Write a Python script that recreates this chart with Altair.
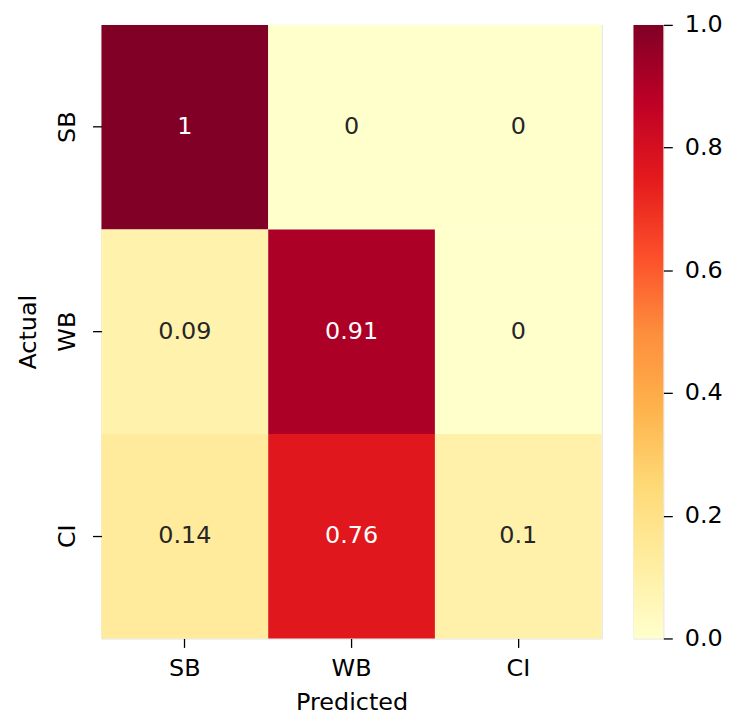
import altair as alt
import pandas as pd

# Data
actual = ["SB", "SB", "SB", "WB", "WB", "WB", "CI", "CI", "CI"]
predicted = ["SB", "WB", "CI", "SB", "WB", "CI", "SB", "WB", "CI"]
values = [1.0, 0.0, 0.0, 0.09, 0.91, 0.0, 0.14, 0.76, 0.1]
classes = ["SB", "WB", "CI"]
cbar_ticks = [0.0, 0.2, 0.4, 0.6, 0.8, 1.0]

# matplotlib YlOrRd anchor colours
ylorrd = ["#ffffcc", "#ffeda0", "#fed976", "#feb24c", "#fd8d3c",
          "#fc4e2a", "#e31a1c", "#bd0026", "#800026"]
stops_pos = [i / 8 for i in range(9)]

df = pd.DataFrame({"Actual": actual, "Predicted": predicted, "value": values})

FONT = "DejaVu Sans"
FS = 24
W, H = 503, 617

x_enc = alt.X("Predicted:N", sort=classes,
              scale=alt.Scale(paddingInner=0, paddingOuter=0),
              axis=alt.Axis(title="Predicted", labelAngle=0, domain=False,
                            tickSize=9, tickWidth=1.3, tickColor="black",
                            labelPadding=9, titlePadding=10,
                            labelFontSize=FS, titleFontSize=FS,
                            titleFontWeight="normal"))
y_enc = alt.Y("Actual:N", sort=classes,
              scale=alt.Scale(paddingInner=0, paddingOuter=0),
              axis=alt.Axis(title="Actual", labelAngle=270, labelAlign="center",
                            labelBaseline="bottom", domain=False,
                            tickSize=9, tickWidth=1.3, tickColor="black",
                            labelPadding=13, titlePadding=15,
                            labelFontSize=FS, titleFontSize=FS,
                            titleFontWeight="normal"))

base = alt.Chart(df).encode(x=x_enc, y=y_enc)

cells = base.mark_rect().encode(
    color=alt.Color("value:Q",
                    scale=alt.Scale(domain=stops_pos, range=ylorrd,
                                    interpolate="rgb"),
                    legend=None)
)

labels = base.mark_text(fontSize=FS, font=FONT).encode(
    text=alt.Text("value:Q", format=".2~g"),
    color=alt.condition(alt.datum.value > 0.5, alt.value("white"),
                        alt.value("#262626"))
)

heat = (cells + labels).properties(width=W, height=H)

cbar_df = pd.DataFrame({"lo": [0.0], "hi": [1.0]})
gradient = alt.LinearGradient(
    gradient="linear",
    stops=[alt.GradientStop(color=c, offset=o) for c, o in zip(ylorrd, stops_pos)],
    x1=0, x2=0, y1=1, y2=0,
)
cbar = alt.Chart(cbar_df).mark_rect(fill=gradient).encode(
    y=alt.Y("lo:Q", scale=alt.Scale(domain=[0, 1], nice=False, zero=False),
            axis=alt.Axis(orient="right", values=cbar_ticks, format=".1f",
                          title=None, domain=False, grid=False,
                          tickSize=9, tickWidth=1.3, tickColor="black",
                          labelPadding=12, labelFontSize=FS)),
    y2="hi:Q",
).properties(width=30, height=H)

chart = alt.hconcat(heat, cbar, spacing=30).properties(
    padding={"left": 8, "top": 2, "right": 0, "bottom": 0}
).configure_view(stroke=None).configure_axis(
    labelFont=FONT, titleFont=FONT, labelColor="black", titleColor="black",
    titleFontWeight="normal"
).configure(font=FONT)

chart.save("out.html", embed_options={"renderer": "svg", "actions": False})
